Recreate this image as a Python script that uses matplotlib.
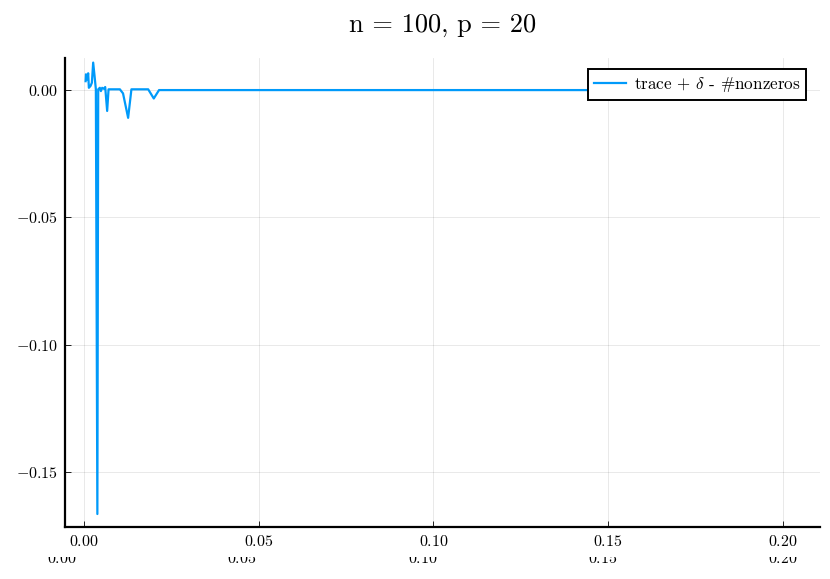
import numpy as np
import matplotlib
matplotlib.use("Agg")
import matplotlib.pyplot as plt
from matplotlib.patches import Rectangle

plt.rcParams['mathtext.fontset'] = 'cm'
plt.rcParams['font.family'] = ['cmr10', 'DejaVu Serif']
plt.rcParams['axes.unicode_minus'] = False

# lambda values and (trace + delta - #nonzeros)
lam = [0.00050, 0.00060, 0.00094, 0.00123, 0.00143, 0.0019, 0.00229, 0.00266,
       0.00306, 0.00343, 0.00386, 0.0041, 0.00457, 0.00486, 0.00523, 0.00571,
       0.0061, 0.00666, 0.00706, 0.0103, 0.0112, 0.01266, 0.0136, 0.0184,
       0.0200, 0.0215, 0.05, 0.10, 0.15, 0.2045]
val = [0.0035, 0.0062, 0.0042, 0.0066, 0.0009, 0.0016, 0.0029, 0.0108,
       0.0055, 0.0003, -0.1665, 0.0003, 0.0009, -0.0004, 0.0009, 0.0005,
       0.0012, -0.0082, 0.0003, 0.0003, -0.0013, -0.0109, 0.0003, 0.0003,
       -0.0033, 0.0, 0.0, 0.0, 0.0, 0.0]

xticks = [0.00, 0.05, 0.10, 0.15, 0.20]
yticks = [0.00, -0.05, -0.10, -0.15]
title = "n = 100, p = 20"
label = r"trace + $\delta$ - #nonzeros"

W, H = 830, 579
fs = 11.5
fig = plt.figure(figsize=(W / 100, H / 100), dpi=100)
ax = fig.add_axes([65 / W, (H - 527) / H, (820 - 65) / W, (527 - 58) / H])

ax.plot(lam, val, color='#009AFA', lw=1.6, label=label)

ax.set_xlim(-0.0054, 0.2106)
ax.set_ylim(-0.1716, 0.0126)
ax.set_xticks(xticks)
ax.set_yticks(yticks)
ax.set_xticklabels(['$%.2f$' % t for t in xticks])
ax.set_yticklabels(['$%.2f$' % t if t != 0 else '$0.00$' for t in yticks])
ax.tick_params(direction='in', length=4, width=0.6, labelsize=fs, pad=5)
ax.grid(True, color='k', alpha=0.1, lw=0.6)
for s in ['top', 'right']:
    ax.spines[s].set_visible(False)
for s in ['left', 'bottom']:
    ax.spines[s].set_linewidth(1.6)

ax.set_title(title, fontsize=19, pad=19)

leg = ax.legend(loc='upper right', bbox_to_anchor=(0.982, 0.976), fontsize=12.3,
                fancybox=False, framealpha=1, edgecolor='k', handlelength=1.9,
                handletextpad=0.45, borderpad=0.35, borderaxespad=0)
leg.get_frame().set_linewidth(1.4)

# faint duplicate of the x tick labels near the bottom edge, top part cut off
for t in xticks:
    px = 62 + t / 0.05 * 180.2
    fig.text(px / W, (H - 558.5) / H, '$%.2f$' % t, ha='center', va='center',
             fontsize=fs, zorder=1)
fig.add_artist(Rectangle((0, (H - 557) / H), 1, 11 / H, transform=fig.transFigure,
                         facecolor='white', edgecolor='none', zorder=2))

fig.savefig('out.png', dpi=100)
